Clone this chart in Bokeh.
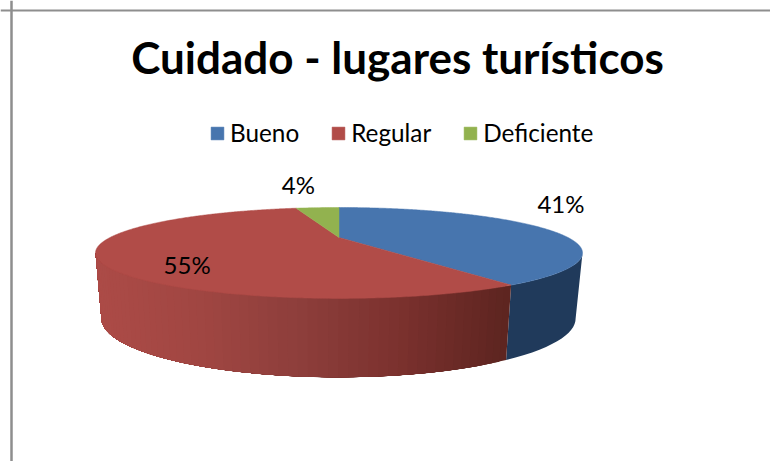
import numpy as np
from bokeh.plotting import figure
from bokeh.models import Legend, LegendItem, Range1d, Span
from bokeh.core.properties import value
from bokeh.embed import file_html
from bokeh.resources import INLINE

title = "Cuidado - lugares turísticos"
categories = ["Bueno", "Regular", "Deficiente"]
values = [41, 55, 4]
labels = ["41%", "55%", "4%"]
colors = ["#4775AE", "#B14C48", "#92B24F"]
side_blue = "#203A5B"

FONT = "Lato"
# projective disc: centre, half widths and tilt of the top and bottom rims
TOP = dict(x0=338.5, y0=237.0, a=229.0, b=40.2, k=0.34)
BOT = dict(x0=338.0, y0=298.0, a=223.0, b=52.0, k=0.34)
SILHOUETTE = 90 + np.degrees(np.arcsin(0.34))


def rim(g, deg):
    t = np.radians(np.asarray(deg, dtype=float))
    w = 1 + g["k"] * np.cos(t)
    return g["x0"] + g["a"] * np.sin(t) / w, g["y0"] - g["b"] * np.cos(t) / w


shares = np.array(values) / sum(values) * 360
ends = np.cumsum(shares)
starts = ends - shares

p = figure(width=770, height=461, output_backend="svg", toolbar_location=None,
           x_range=Range1d(0, 770), y_range=Range1d(461, 0),
           x_axis_location=None, y_axis_location=None, min_border=0,
           outline_line_color=None, background_fill_color="white",
           border_fill_color="white")
p.grid.visible = False

p.add_layout(Span(location=11, dimension="height", line_color="#8E8E8E", line_width=2.5))
p.add_layout(Span(location=10, dimension="width", line_color="#8E8E8E", line_width=2))


def side(a, b, color):
    d = np.linspace(a, b, 16)
    xt, yt = rim(TOP, d)
    xb, yb = rim(BOT, d)
    p.patch(np.r_[xt, xb[::-1]], np.r_[yt, yb[::-1]], fill_color=color,
            line_color=None)


# blue wall
side(SILHOUETTE, ends[0], side_blue)

# red wall, shaded in overlapping strips from dark (right) to light (left)
stop_x = [95, 200, 300, 400, 505]
stop_c = np.array([[0xAC, 0x4B, 0x47], [0xA0, 0x46, 0x42], [0x8D, 0x3E, 0x3B],
                   [0x7B, 0x31, 0x2E], [0x5E, 0x25, 0x20]], dtype=float)
last = 360 - SILHOUETTE
edges = np.linspace(ends[0], last, 61)
for a, b in zip(edges[:-1], edges[1:]):
    xm = rim(TOP, (a + b) / 2)[0]
    c = [int(round(np.interp(xm, stop_x, stop_c[:, i]))) for i in range(3)]
    side(a, last, "#%02X%02X%02X" % tuple(c))

# top face
items = []
for name, a, b, col in zip(categories, starts, ends, colors):
    d = np.linspace(a, b, max(int(b - a) * 2, 8))
    xr, yr = rim(TOP, d)
    r = p.patch(np.r_[TOP["x0"], xr], np.r_[TOP["y0"], yr], fill_color=col,
                line_color=col, line_width=0.5)
    items.append(LegendItem(label=name, renderers=[r]))

legend = Legend(items=items, orientation="horizontal", location=(209, 314),
                glyph_width=16, glyph_height=16, label_standoff=5, spacing=31,
                padding=0, margin=0, border_line_color=None,
                background_fill_alpha=0, label_text_font=FONT,
                label_text_font_size="24.3px", label_text_color="#000000",
                label_height=20)
p.add_layout(legend, "center")

p.text([397], [56], text=[title], text_font=value(FONT), text_font_style="bold",
       text_font_size="44px", text_align="center", text_baseline="middle",
       text_color="#000000")

# slice labels placed from the mid-angle of each slice
mids = (starts + ends) / 2
radial = [1.11, 0.625, 1.71]
nudge_x = [-1, 0, -4]
nudge_y = [-22.5, 15.5, -2]
for lab, m, f, nx, ny in zip(labels, mids, radial, nudge_x, nudge_y):
    t = np.radians(m)
    w = 1 + TOP["k"] * np.cos(t)
    lx = TOP["x0"] + f * TOP["a"] * np.sin(t) / w + nx
    ly = TOP["y0"] - f * TOP["b"] * np.cos(t) / w + ny
    p.text([lx], [ly], text=[lab], text_font=value(FONT), text_font_size="24px",
           text_align="center", text_baseline="middle", text_color="#000000")

open("out.html", "w").write(file_html(p, INLINE))
